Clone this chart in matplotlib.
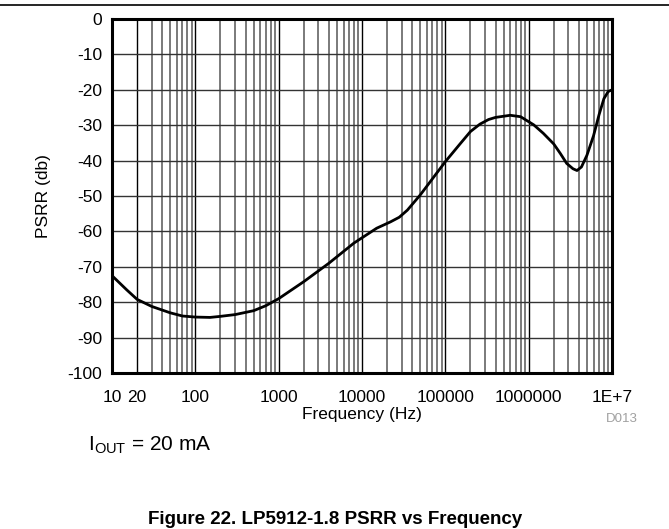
import matplotlib.pyplot as plt
from matplotlib.ticker import FixedLocator, NullFormatter, LogLocator

plt.rcParams['font.family'] = ['Liberation Sans', 'DejaVu Sans']
plt.rcParams['axes.unicode_minus'] = False

# PSRR curve
freq = [10, 15, 20, 30, 50, 70, 100, 150, 200, 300, 500, 700, 1000, 2000, 4000,
        8000, 15000, 22000, 28000, 35000, 50000, 100000, 150000, 200000, 260000,
        330000, 400000, 600000, 800000, 1150000, 1500000, 2000000, 2400000,
        2860000, 3400000, 3800000, 4300000, 5000000, 6000000, 7000000, 8000000,
        9000000, 10000000]
psrr = [-72.5, -76.5, -79.2, -81.2, -83.0, -83.9, -84.2, -84.3, -84.0, -83.5,
        -82.4, -81.0, -79.0, -74.2, -69.0, -63.3, -59.1, -57.3, -56.0, -54.0,
        -49.7, -40.3, -35.3, -31.8, -29.7, -28.4, -27.8, -27.2, -27.6, -29.9,
        -32.3, -35.3, -38.0, -40.8, -42.3, -42.8, -41.8, -38.5, -33.0, -27.0,
        -22.5, -20.5, -20.0]

xticks = [10, 20, 100, 1000, 10000, 100000, 1000000, 10000000]
xlabels = ['10', '20', '100', '1000', '10000', '100000', '1000000', '1E+7']
yticks = list(range(-100, 1, 10))

fig = plt.figure(figsize=(6.69, 5.29), dpi=100)
ax = fig.add_axes([112 / 669, 1 - 373 / 529, 500 / 669, 354 / 529])

ax.set_xscale('log')
ax.set_xlim(10, 1e7)
ax.set_ylim(-100, 0)

# grid: majors black, minors grey
ax.xaxis.set_major_locator(FixedLocator([1e1, 1e2, 1e3, 1e4, 1e5, 1e6, 1e7]))
ax.xaxis.set_minor_locator(LogLocator(base=10, subs=range(2, 10), numticks=20))
ax.xaxis.set_minor_formatter(NullFormatter())
ax.grid(which='major', axis='x', color='black', linewidth=1.0)
ax.grid(which='minor', axis='x', color='#707070', linewidth=1.3)
ax.set_yticks(yticks)
ax.grid(which='major', axis='y', color='#333333', linewidth=1.0)
ax.set_axisbelow(True)

ax.plot(freq, psrr, color='black', linewidth=2.0, zorder=3)

# tick labels (10 and 20 both labelled)
ax.set_xticks(xticks)
ax.set_xticklabels(xlabels)
ax.tick_params(axis='both', which='both', length=0, labelsize=12.5)
ax.tick_params(axis='x', pad=12)
ax.tick_params(axis='y', pad=7)

for s in ax.spines.values():
    s.set_linewidth(2.2)
    s.set_color('black')

ax.set_xlabel('Frequency (Hz)', fontsize=12.5, labelpad=2)
ax.set_ylabel('PSRR (db)', fontsize=12.5, labelpad=12)

fig.text(638 / 669, 1 - 419 / 529, 'D013', color='#a0a0a0', fontsize=9.5,
         ha='right', va='center')
fig.text(88 / 669, 1 - 445 / 529, r'I$_{\mathregular{OUT}}$ = 20 mA', fontsize=15,
         ha='left', va='center')
fig.text(335 / 669, 1 - 519 / 529, 'Figure 22. LP5912-1.8 PSRR vs Frequency',
         fontsize=13.5, fontweight='bold', ha='center', va='center')

# separator line at top
fig.add_artist(plt.Line2D([0, 1], [1 - 5 / 529, 1 - 5 / 529], color='black',
                          linewidth=1.2, transform=fig.transFigure))

fig.savefig('out.png', dpi=100)
